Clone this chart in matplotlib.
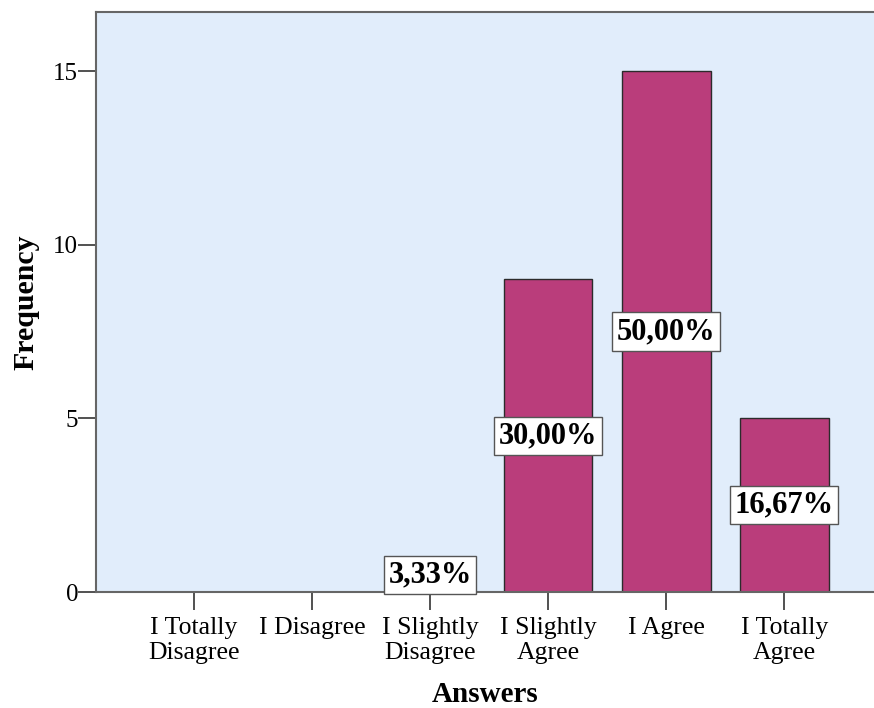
import matplotlib
matplotlib.use('Agg')
from matplotlib import pyplot as plt

categories = ['I Totally\nDisagree', 'I Disagree', 'I Slightly\nDisagree',
              'I Slightly\nAgree', 'I Agree', 'I Totally\nAgree']
frequency = [0, 0, 1, 9, 15, 5]
percent_labels = ['', '', '3,33%', '30,00%', '50,00%', '16,67%']
y_ticks = [0, 5, 10, 15]

if __name__ == '__main__':
    plt.rcParams['font.family'] = ['Liberation Serif', 'DejaVu Serif']
    fig = plt.figure(figsize=(8.74, 7.08), dpi=100)
    ax = fig.add_axes([0.110, 0.1638, 0.89, 0.8192])
    ax.set_facecolor('#E1EDFB')

    x = list(range(len(categories)))
    ax.bar(x, frequency, width=0.75, color='#BA3D7B',
           edgecolor='#2b2b2b', linewidth=1.0, zorder=2)

    for xi, val, lab in zip(x, frequency, percent_labels):
        if not lab:
            continue
        ax.text(xi, val / 2.0, lab, ha='center', va='center',
                fontsize=22, fontweight='bold', zorder=3,
                bbox=dict(boxstyle='square,pad=0.15', facecolor='white',
                          edgecolor='#555555', linewidth=1.0))

    ax.set_xlim(-0.83, 5.76)
    ax.set_ylim(0, 16.7)
    ax.set_xticks(x)
    ax.set_xticklabels(categories, fontsize=18.5, linespacing=1.2)
    ax.set_yticks(y_ticks)
    ax.set_yticklabels([str(v) for v in y_ticks], fontsize=18)
    ax.tick_params(axis='x', direction='out', length=13, width=1.2,
                   color='#333333', pad=5)
    ax.tick_params(axis='y', direction='out', length=13, width=1.2,
                   color='#333333', pad=0)

    for side in ['left', 'top', 'bottom']:
        ax.spines[side].set_color('#666666')
        ax.spines[side].set_linewidth(1.5)
    ax.spines['right'].set_visible(False)

    ax.set_ylabel('Frequency', fontsize=21.5, fontweight='bold', labelpad=10)
    ax.set_xlabel('Answers', fontsize=21, fontweight='bold', labelpad=12)

    fig.savefig('out.png', dpi=100)
